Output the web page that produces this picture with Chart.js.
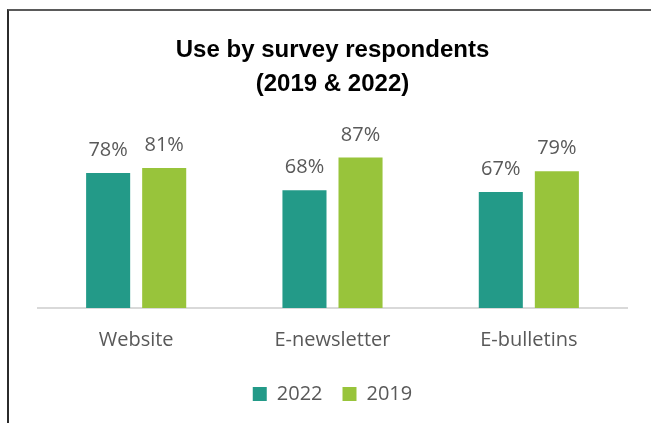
<!DOCTYPE html>
<html>
<head>
<meta charset="utf-8">
<script src="https://cdn.jsdelivr.net/npm/chart.js@4"></script>
<style>
  html, body { margin: 0; padding: 0; background: #ffffff; }
  #wrap { position: relative; width: 651px; height: 423px; overflow: hidden; }
  #frame {
    position: absolute; left: 7px; top: 9px; width: 700px; height: 500px;
    border-top: 2px solid #5a5a5a; border-left: 2px solid #2b2b2b;
    box-sizing: border-box;
  }
  canvas { position: absolute; left: 0; top: 0; }
</style>
</head>
<body>
<div id="wrap">
  <div id="frame"></div>
  <canvas id="c" width="651" height="423"></canvas>
</div>
<script>
// Survey channel usage, percent of respondents
const categories = ['Website', 'E-newsletter', 'E-bulletins'];
const seriesNames = ['2022', '2019'];
const values2022 = [78, 68, 67];
const values2019 = [81, 87, 79];
const titleLines = ['Use by survey respondents', '(2019 & 2022)'];

const TEXT = '#595959';
const TEAL = '#239A88';
const LIME = '#98C43B';

// Draws "NN%" centred above every bar
const barValueLabels = {
  id: 'barValueLabels',
  afterDatasetsDraw(chart) {
    const ctx = chart.ctx;
    ctx.save();
    ctx.font = '20px "Open Sans"';
    ctx.fillStyle = TEXT;
    ctx.textAlign = 'center';
    ctx.textBaseline = 'alphabetic';
    chart.data.datasets.forEach((ds, di) => {
      const meta = chart.getDatasetMeta(di);
      meta.data.forEach((bar, i) => {
        ctx.fillText(ds.data[i] + '%', bar.x, bar.y - 17);
      });
    });
    ctx.restore();
  }
};

new Chart(document.getElementById('c'), {
  type: 'bar',
  data: {
    labels: categories,
    datasets: [
      { label: seriesNames[0], data: values2022, backgroundColor: TEAL,
        categoryPercentage: 0.571, barPercentage: 0.786 },
      { label: seriesNames[1], data: values2019, backgroundColor: LIME,
        categoryPercentage: 0.571, barPercentage: 0.786 }
    ]
  },
  options: {
    responsive: false,
    animation: false,
    layout: { padding: { top: 0, left: 38, right: 24, bottom: 9 } },
    scales: {
      x: {
        grid: { display: false },
        border: { display: true, color: '#d9d9d9', width: 2 },
        ticks: { color: TEXT, font: { family: 'Open Sans', size: 20 }, padding: 12 }
      },
      y: { display: false, min: 0, max: 100 }
    },
    plugins: {
      title: {
        display: true,
        text: titleLines,
        color: '#000000',
        font: { family: 'Liberation Sans', size: 24, weight: 'bold', lineHeight: 1.417 },
        padding: { top: 33, bottom: 34 }
      },
      legend: {
        position: 'bottom',
        labels: {
          color: TEXT,
          font: { family: 'Open Sans', size: 20 },
          boxWidth: 14, boxHeight: 14, padding: 20
        }
      },
      tooltip: { enabled: false }
    }
  },
  plugins: [barValueLabels]
});
</script>
</body>
</html>
